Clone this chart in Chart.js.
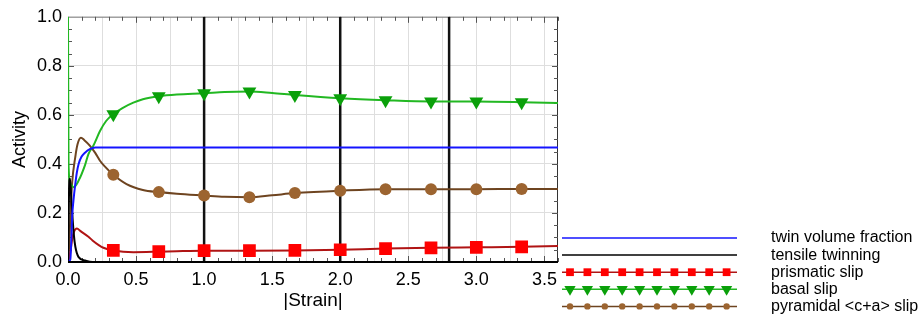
<!DOCTYPE html>
<html>
<head>
<meta charset="utf-8">
<script src="https://cdn.jsdelivr.net/npm/chart.js@4/dist/chart.umd.min.js"></script>
<style>
  html, body { margin: 0; padding: 0; background: #fff; }
  #wrap { width: 922px; height: 322px; }
</style>
</head>
<body>
<div id="wrap"><canvas id="activityChart"></canvas></div>
<script>
// series (strain, activity)
const twinStrain = [0, 0.017, 0.025, 0.03, 0.04, 0.054, 0.065, 0.078, 0.1, 0.127, 0.16, 0.2, 3.6];
const twinFraction = [0, 0.01, 0.1, 0.18, 0.25, 0.32, 0.365, 0.4, 0.43, 0.447, 0.46, 0.467, 0.467];

const tensileStrain = [0, 0.008, 0.015, 0.025, 0.042, 0.054, 0.078, 0.127, 0.18, 3.6];
const tensileTwinning = [0, 0.3, 0.34, 0.25, 0.117, 0.062, 0.02, 0.006, 0, 0];

const prismStrain = [0, 0.01, 0.02, 0.03, 0.045, 0.066, 0.09, 0.15, 0.18, 0.226, 0.26, 0.333, 0.48, 0.667, 0.8, 1.0, 1.333, 1.667, 2.0, 2.333, 2.667, 3.0, 3.333, 3.6];
const prismaticSlip = [0, 0.02, 0.05, 0.09, 0.125, 0.137, 0.127, 0.103, 0.088, 0.069, 0.058, 0.047, 0.04, 0.042, 0.044, 0.046, 0.046, 0.047, 0.05, 0.055, 0.058, 0.06, 0.062, 0.065];

const basalStrain = [0, 0.004, 0.017, 0.042, 0.078, 0.125, 0.15, 0.186, 0.235, 0.28, 0.333, 0.4, 0.48, 0.55, 0.667, 0.8, 1.0, 1.15, 1.333, 1.5, 1.667, 2.0, 2.333, 2.667, 3.0, 3.333, 3.6];
const basalSlip = [1.0, 0.4, 0.32, 0.305, 0.332, 0.395, 0.44, 0.474, 0.534, 0.575, 0.603, 0.628, 0.65, 0.664, 0.676, 0.683, 0.688, 0.693, 0.695, 0.689, 0.681, 0.668, 0.66, 0.655, 0.655, 0.652, 0.648];

const pyrStrain = [0, 0.01, 0.017, 0.03, 0.054, 0.07, 0.095, 0.12, 0.16, 0.2, 0.235, 0.27, 0.333, 0.43, 0.55, 0.667, 0.8, 1.0, 1.15, 1.333, 1.5, 1.667, 2.0, 2.333, 2.667, 3.0, 3.333, 3.6];
const pyramidalSlip = [0, 0.08, 0.18, 0.32, 0.43, 0.48, 0.507, 0.497, 0.475, 0.445, 0.413, 0.39, 0.356, 0.318, 0.294, 0.285, 0.278, 0.271, 0.266, 0.264, 0.272, 0.281, 0.291, 0.297, 0.297, 0.297, 0.298, 0.298];

// strains where symbols are placed
const markerStrains = [0.333, 0.667, 1.0, 1.333, 1.667, 2.0, 2.333, 2.667, 3.0, 3.333];
// vertical stage lines
const stageStrains = [1.0, 2.0, 2.8];

// axis ticks
const xGridStep = 0.25;
const xLabelStep = 0.5;
const xMax = 3.6;

const legendLabels = ['twin volume fraction', 'tensile twinning', 'prismatic slip', 'basal slip', 'pyramidal <c+a> slip'];

const FONT = '"Liberation Sans", Arial, sans-serif';

function pts(xs, ys) {
  return xs.map((x, i) => ({ x: x, y: ys[i] }));
}
function atMarker(ctx, r) {
  const p = ctx.raw;
  if (!p) return 0;
  return markerStrains.some(m => Math.abs(p.x - m) < 0.002) ? r : 0;
}

function series(label, xs, ys, line, marker) {
  const ds = {
    label: label,
    data: pts(xs, ys),
    borderColor: line,
    borderWidth: 2,
    cubicInterpolationMode: 'monotone',
    pointRadius: 0,
    pointHoverRadius: 0
  };
  if (marker) {
    ds.pointStyle = marker.style;
    ds.rotation = marker.rotation || 0;
    ds.pointBackgroundColor = marker.color;
    ds.pointBorderColor = marker.color;
    ds.pointBorderWidth = 0;
    ds.pointRadius = ctx => atMarker(ctx, marker.r);
    ds.legendMarker = marker;
  }
  return ds;
}

const datasets = [
  series(legendLabels[0], twinStrain, twinFraction, '#1414ff'),
  series(legendLabels[1], tensileStrain, tensileTwinning, '#000000'),
  series(legendLabels[2], prismStrain, prismaticSlip, '#b01414', { style: 'rect', r: 9, color: '#ff0000', lr: 5.5 }),
  series(legendLabels[3], basalStrain, basalSlip, '#22b822', { style: 'triangle', rotation: 180, r: 8, color: '#0aa00a', lr: 6.5 }),
  series(legendLabels[4], pyrStrain, pyramidalSlip, '#6e4420', { style: 'circle', r: 6, color: '#9c6430', lr: 3.2 })
];
stageStrains.forEach(s => {
  datasets.push({
    label: 'stage',
    data: [{ x: s, y: 0 }, { x: s, y: 1 }],
    borderColor: '#111',
    borderWidth: 2.5,
    pointRadius: 0,
    isStage: true
  });
});

// frame with small ticks on all four sides
const framePlugin = {
  id: 'frame',
  beforeDatasetsDraw(chart) {
    const { ctx, chartArea: a, scales: { x, y } } = chart;
    ctx.save();
    ctx.lineWidth = 1;
    ctx.strokeStyle = '#8a8a8a';
    ctx.beginPath();
    ctx.moveTo(a.left, a.top + 0.5); ctx.lineTo(a.right, a.top + 0.5);
    ctx.moveTo(a.left + 0.5, a.top); ctx.lineTo(a.left + 0.5, a.bottom);
    ctx.stroke();
    ctx.strokeStyle = '#333';
    ctx.beginPath();
    ctx.moveTo(a.right - 0.5, a.top); ctx.lineTo(a.right - 0.5, a.bottom);
    ctx.stroke();
    ctx.strokeStyle = '#555';
    ctx.beginPath();
    for (let i = 1; i <= 36; i++) {
      const px = Math.round(x.getPixelForValue(i / 10)) + 0.5;
      const len = i % 5 === 0 ? 6 : 4;
      ctx.moveTo(px, a.bottom); ctx.lineTo(px, a.bottom - len);
      ctx.moveTo(px, a.top); ctx.lineTo(px, a.top + len);
    }
    for (let j = 1; j < 20; j++) {
      const py = Math.round(y.getPixelForValue(j / 20)) + 0.5;
      const len = j % 4 === 0 ? 6 : 4;
      ctx.moveTo(a.left, py); ctx.lineTo(a.left + len, py);
      ctx.moveTo(a.right, py); ctx.lineTo(a.right - len, py);
    }
    ctx.stroke();
    ctx.restore();
  },
  afterDatasetsDraw(chart) {
    const { ctx, chartArea: a } = chart;
    ctx.save();
    ctx.strokeStyle = '#000';
    ctx.lineWidth = 2;
    ctx.beginPath();
    ctx.moveTo(a.left, a.bottom); ctx.lineTo(a.right, a.bottom);
    ctx.stroke();
    ctx.restore();
  }
};

// legend drawn below-right of the plot
const legendPlugin = {
  id: 'sideLegend',
  afterDraw(chart) {
    const { ctx, chartArea: a } = chart;
    const x0 = a.right + 4, x1 = a.right + 179, textX = a.right + 213;
    const rowY0 = 238, rowStep = 17.1;
    ctx.save();
    chart.data.datasets.filter(d => !d.isStage).forEach((d, i) => {
      const yy = rowY0 + i * rowStep;
      ctx.strokeStyle = d.borderColor;
      ctx.lineWidth = 1.5;
      ctx.beginPath();
      ctx.moveTo(x0, yy); ctx.lineTo(x1, yy);
      ctx.stroke();
      const m = d.legendMarker;
      if (m) {
        for (let k = 0; k < 10; k++) {
          ctx.fillStyle = m.color;
          ctx.strokeStyle = m.color;
          Chart.helpers.drawPoint(ctx, {
            pointStyle: m.style, rotation: m.rotation || 0, radius: m.lr, borderWidth: 0
          }, x0 + 8 + k * 17.4, yy);
        }
      }
      ctx.fillStyle = '#000';
      ctx.font = '16px ' + FONT;
      ctx.textBaseline = 'middle';
      ctx.textAlign = 'left';
      ctx.fillText(d.label, textX, yy);
    });
    ctx.restore();
  }
};

new Chart(document.getElementById('activityChart'), {
  type: 'line',
  data: { datasets: datasets },
  options: {
    responsive: true,
    maintainAspectRatio: false,
    animation: false,
    events: [],
    layout: { padding: { top: 15, right: 364, left: 0, bottom: 0 } },
    plugins: { legend: { display: false }, tooltip: { enabled: false } },
    scales: {
      x: {
        type: 'linear',
        min: 0,
        max: xMax,
        border: { display: false },
        grid: { color: '#dedede', drawTicks: false },
        afterBuildTicks: scale => {
          const ticks = [];
          for (let v = 0; v <= xMax + 1e-9; v += xGridStep) ticks.push({ value: Math.round(v * 100) / 100 });
          scale.ticks = ticks;
        },
        afterFit: scale => { scale.height = 60; },
        ticks: {
          autoSkip: false,
          maxRotation: 0,
          padding: 7,
          color: '#000',
          font: { family: FONT, size: 18 },
          callback: v => Math.abs(v / xLabelStep - Math.round(v / xLabelStep)) < 1e-6 ? v.toFixed(1) : ''
        },
        title: {
          display: true,
          text: '|Strain|',
          color: '#000',
          font: { family: FONT, size: 19 },
          padding: { top: 0, bottom: 10 }
        }
      },
      y: {
        min: 0,
        max: 1,
        border: { display: false },
        grid: { color: '#dedede', drawTicks: false },
        afterFit: scale => { scale.width = 68; },
        ticks: {
          stepSize: 0.2,
          padding: 6,
          color: '#000',
          font: { family: FONT, size: 18 },
          callback: v => v.toFixed(1)
        },
        title: {
          display: true,
          text: 'Activity',
          color: '#000',
          font: { family: FONT, size: 18 },
          padding: { top: 9, bottom: 0 }
        }
      }
    }
  },
  plugins: [framePlugin, legendPlugin]
});
</script>
</body>
</html>
